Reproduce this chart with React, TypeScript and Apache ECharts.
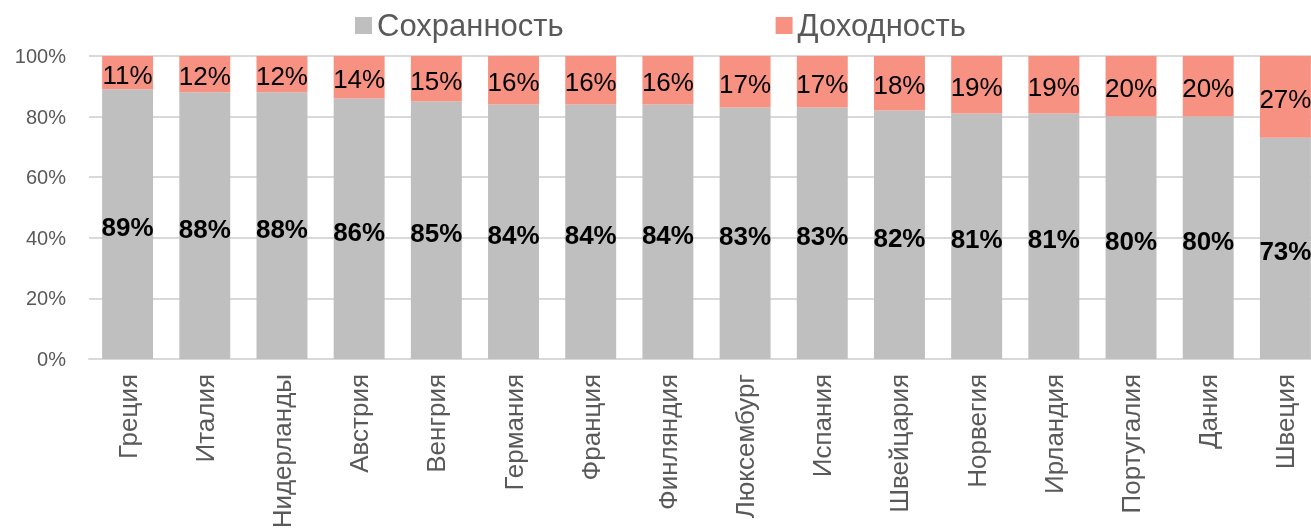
import React, { useEffect, useRef } from "react";
import * as echarts from "echarts";

const categories = ["Греция", "Италия", "Нидерланды", "Австрия", "Венгрия", "Германия", "Франция", "Финляндия", "Люксембург", "Испания", "Швейцария", "Норвегия", "Ирландия", "Португалия", "Дания", "Швеция"];
const safety = [89, 88, 88, 86, 85, 84, 84, 84, 83, 83, 82, 81, 81, 80, 80, 73];
const returns = [11, 12, 12, 14, 15, 16, 16, 16, 17, 17, 18, 19, 19, 20, 20, 27];
const seriesNames = ["Сохранность", "Доходность"];

const FONT = "'Liberation Sans', Arial, sans-serif";

export default function App() {
  const ref = useRef<HTMLDivElement>(null);
  useEffect(() => {
    if (!ref.current) return;
    const chart = echarts.init(ref.current, null, { renderer: "svg" });
    chart.setOption({
      animation: false,
      textStyle: { fontFamily: FONT },
      legend: {
        left: 350,
        top: 5,
        itemWidth: 17,
        itemHeight: 17,
        itemGap: 212,
        icon: "rect",
        textStyle: { fontSize: 31, color: "#595959", fontFamily: FONT, padding: [0, 0, 0, 0] },
        data: seriesNames,
      },
      grid: { left: 89, right: 0, top: 56, bottom: 173, containLabel: false },
      xAxis: {
        type: "category",
        data: categories,
        axisLine: { lineStyle: { color: "#D9D9D9", width: 2 } },
        axisTick: { show: false },
        axisLabel: { rotate: 90, fontSize: 26, color: "#595959", margin: 15, fontFamily: FONT, interval: 0 },
      },
      yAxis: {
        type: "value",
        min: 0,
        max: 100,
        interval: 20,
        axisLine: { show: false },
        axisTick: { show: false },
        splitLine: { lineStyle: { color: "#D9D9D9", width: 2 } },
        axisLabel: { formatter: "{value}%", fontSize: 20, color: "#595959", margin: 23, fontFamily: FONT },
      },
      series: [
        {
          name: seriesNames[0],
          type: "bar",
          stack: "total",
          data: safety,
          barCategoryGap: "34%",
          itemStyle: { color: "#BFBFBF" },
          label: { show: true, position: "inside", offset: [0, 3], formatter: "{c}%", fontSize: 26, fontWeight: "bold", color: "#000", fontFamily: FONT },
        },
        {
          name: seriesNames[1],
          type: "bar",
          stack: "total",
          data: returns,
          barCategoryGap: "34%",
          itemStyle: { color: "#F79283" },
          label: { show: true, position: "inside", offset: [0, 2], formatter: "{c}%", fontSize: 26, color: "#000", fontFamily: FONT },
        },
      ],
    });
    return () => chart.dispose();
  }, []);
  return (
    <div style={{ position: "fixed", left: 0, top: 0, width: 1311, height: 532, overflow: "hidden" }}>
      <div ref={ref} style={{ width: 1324, height: 532 }} />
    </div>
  );
}
